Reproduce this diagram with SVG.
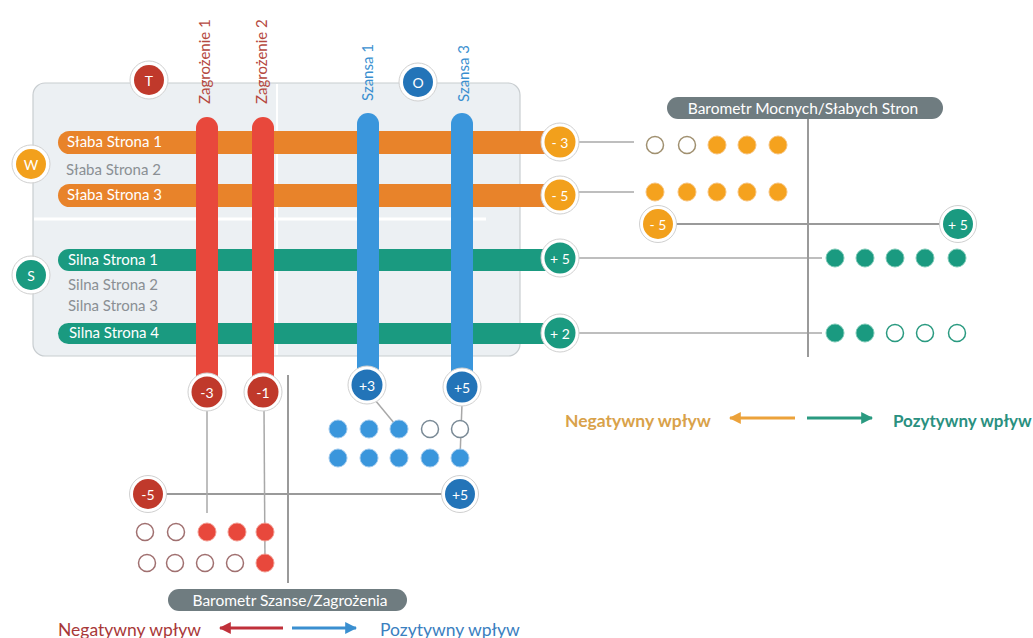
<svg xmlns="http://www.w3.org/2000/svg" width="1033" height="638" viewBox="0 0 1033 638">
<defs>
<style>
text{font-family:Lato,"Open Sans","Liberation Sans",sans-serif}
.bar-t{fill:#fff;font-size:15px}
.grey-t{fill:#8a8f94;font-size:15px}
.ln{stroke:#a8a8a8;stroke-width:1.5;fill:none}
.ax{stroke:#9a9a9a;stroke-width:2;fill:none}
.ring{fill:#fff;stroke:#d0d0d0;stroke-width:1}
.bt{fill:#fff;font-size:14px;text-anchor:middle;dominant-baseline:central}
.or{fill:#f2a01c}
.gr{fill:#1a9a80}
.rd{fill:#c0392b}
.bl{fill:#2374b8}
.dot-o{fill:#f5a21e;stroke:#f7c27a;stroke-width:1}
.dot-g{fill:#1a9a80;stroke:#7cc9b6;stroke-width:1}
.dot-r{fill:#e8483c;stroke:#f29a90;stroke-width:1}
.dot-b{fill:#3a96dc;stroke:#9cc8ee;stroke-width:1}
.open-o{fill:#fff;stroke:#a09070;stroke-width:1.5}
.open-g{fill:#fff;stroke:#2a9a80;stroke-width:1.5}
.open-r{fill:#fff;stroke:#a07070;stroke-width:1.5}
.open-b{fill:#fff;stroke:#7a8a96;stroke-width:1.5}
.pill{fill:#6f7c80}
.pill-t{fill:#fff;font-size:15.5px;text-anchor:middle;dominant-baseline:central}
.vl{font-size:15px}
</style>
<marker id="arrOr" viewBox="0 0 10 10" refX="9" refY="5" markerWidth="4" markerHeight="4" orient="auto-start-reverse"><path d="M0,0 L10,5 L0,10 z" fill="#eca23a"/></marker>
<marker id="arrGr" viewBox="0 0 10 10" refX="9" refY="5" markerWidth="4" markerHeight="4" orient="auto-start-reverse"><path d="M0,0 L10,5 L0,10 z" fill="#2a9a80"/></marker>
<marker id="arrRd" viewBox="0 0 10 10" refX="9" refY="5" markerWidth="4" markerHeight="4" orient="auto-start-reverse"><path d="M0,0 L10,5 L0,10 z" fill="#c0303a"/></marker>
<marker id="arrBl" viewBox="0 0 10 10" refX="9" refY="5" markerWidth="4" markerHeight="4" orient="auto-start-reverse"><path d="M0,0 L10,5 L0,10 z" fill="#3a8fd0"/></marker>
</defs>
<rect width="1033" height="638" fill="#fff"/>

<g id="panel">
<rect x="33" y="83" width="487" height="273" rx="12" fill="#ecf0f3" stroke="#c8cdd0" stroke-width="1.2"/>
<line x1="34" y1="219" x2="486" y2="219" stroke="#fff" stroke-width="3"/>
<line x1="277" y1="84" x2="277" y2="355" stroke="#fff" stroke-width="2"/>
</g>

<g id="connectors">
<line class="ln" x1="578" y1="142" x2="634" y2="142"/>
<line class="ln" x1="578" y1="192" x2="634" y2="192"/>
<line class="ln" x1="578" y1="258" x2="822" y2="258"/>
<line class="ln" x1="578" y1="333" x2="822" y2="333"/>
<line class="ax" x1="808" y1="119" x2="808" y2="357"/>
<line class="ax" x1="675" y1="224" x2="941" y2="224"/>
<line class="ax" x1="288" y1="375" x2="288" y2="583"/>
<line class="ax" x1="165" y1="494" x2="443" y2="494"/>
<line class="ln" x1="207" y1="409" x2="207" y2="513"/>
<line class="ln" x1="264" y1="409" x2="265" y2="563"/>
<line class="ln" x1="375" y1="400" x2="399" y2="429"/>
<line class="ln" x1="462" y1="404" x2="460" y2="458"/>
</g>

<g id="weaknesses">
<rect x="58" y="131" width="505" height="23" rx="11.5" fill="#e8832a"/>
<text class="bar-t" x="67" y="147">Słaba Strona 1</text>
<text class="grey-t" x="66" y="175">Słaba Strona 2</text>
<rect x="58" y="184" width="505" height="23" rx="11.5" fill="#e8832a"/>
<text class="bar-t" x="67" y="200">Słaba Strona 3</text>
</g>

<g id="strengths">
<rect x="58" y="249" width="505" height="22" rx="11" fill="#1a9a80"/>
<text class="bar-t" x="68" y="265">Silna Strona 1</text>
<text class="grey-t" x="68" y="290">Silna Strona 2</text>
<text class="grey-t" x="68" y="311">Silna Strona 3</text>
<rect x="58" y="323" width="505" height="21" rx="10.5" fill="#1a9a80"/>
<text class="bar-t" x="69" y="338">Silna Strona 4</text>
</g>

<g id="threat1">
<rect x="196" y="117" width="22" height="275" rx="11" fill="#e8483c"/>
<text class="vl" x="210" y="104" transform="rotate(-90 210 104)" fill="#b5483e">Zagrożenie 1</text>
</g>
<g id="threat2">
<rect x="252" y="117" width="22" height="275" rx="11" fill="#e8483c"/>
<text class="vl" x="267" y="104" transform="rotate(-90 267 104)" fill="#b5483e">Zagrożenie 2</text>
</g>
<g id="opportunity1">
<rect x="357" y="113" width="22" height="272" rx="11" fill="#3a96dc"/>
<text class="vl" x="373" y="101" transform="rotate(-90 373 101)" fill="#3a8fd0">Szansa 1</text>
</g>
<g id="opportunity3">
<rect x="451" y="113" width="22" height="274" rx="11" fill="#3a96dc"/>
<text class="vl" x="469" y="102" transform="rotate(-90 469 102)" fill="#3a8fd0">Szansa 3</text>
</g>

<g id="circle-T"><circle class="ring" cx="149" cy="80" r="19"/><circle class="rd" cx="149" cy="80" r="15"/><text class="bt" x="149" y="80">T</text></g>
<g id="circle-O"><circle class="ring" cx="418" cy="82" r="19"/><circle class="bl" cx="418" cy="82" r="15"/><text class="bt" x="418" y="82">O</text></g>
<g id="circle-W"><circle class="ring" cx="31" cy="164" r="19"/><circle class="or" cx="31" cy="164" r="15"/><text class="bt" x="31" y="164">W</text></g>
<g id="circle-S"><circle class="ring" cx="31" cy="275" r="19"/><circle class="gr" cx="31" cy="275" r="15"/><text class="bt" x="31" y="275">S</text></g>

<g id="badge-w1"><circle class="ring" cx="560" cy="142" r="19"/><circle class="or" cx="560" cy="142" r="15.5"/><text class="bt" x="560" y="142">- 3</text></g>
<g id="badge-w3"><circle class="ring" cx="560" cy="195" r="19"/><circle class="or" cx="560" cy="195" r="15.5"/><text class="bt" x="560" y="195">- 5</text></g>
<g id="badge-s1"><circle class="ring" cx="560" cy="258" r="19"/><circle class="gr" cx="560" cy="258" r="15.5"/><text class="bt" x="560" y="258">+ 5</text></g>
<g id="badge-s4"><circle class="ring" cx="560" cy="333" r="19"/><circle class="gr" cx="560" cy="333" r="15.5"/><text class="bt" x="560" y="333">+ 2</text></g>
<g id="badge-t1"><circle class="ring" cx="207" cy="392" r="19"/><circle class="rd" cx="207" cy="392" r="15.5"/><text class="bt" x="207" y="392">-3</text></g>
<g id="badge-t2"><circle class="ring" cx="263" cy="392" r="19"/><circle class="rd" cx="263" cy="392" r="15.5"/><text class="bt" x="263" y="392">-1</text></g>
<g id="badge-o1"><circle class="ring" cx="367" cy="385" r="19"/><circle class="bl" cx="367" cy="385" r="15.5"/><text class="bt" x="367" y="385">+3</text></g>
<g id="badge-o3"><circle class="ring" cx="462" cy="387" r="19"/><circle class="bl" cx="462" cy="387" r="15.5"/><text class="bt" x="462" y="387">+5</text></g>

<g id="barometer-sw">
<rect class="pill" x="667" y="97" width="276" height="22" rx="11"/>
<text class="pill-t" x="803" y="108">Barometr  Mocnych/Słabych Stron</text>
<g id="sw-min"><circle class="ring" cx="658" cy="224" r="18.5"/><circle class="or" cx="658" cy="224" r="15"/><text class="bt" x="658" y="224">- 5</text></g>
<g id="sw-max"><circle class="ring" cx="958" cy="224" r="18.5"/><circle class="gr" cx="958" cy="224" r="15"/><text class="bt" x="958" y="224">+ 5</text></g>
<circle class="open-o" cx="655" cy="145" r="8.5"/><circle class="open-o" cx="687" cy="145" r="8.5"/><circle class="dot-o" cx="717" cy="145" r="9"/><circle class="dot-o" cx="747" cy="145" r="9"/><circle class="dot-o" cx="778" cy="145" r="9"/>
<circle class="dot-o" cx="655" cy="192" r="9"/><circle class="dot-o" cx="687" cy="192" r="9"/><circle class="dot-o" cx="717" cy="192" r="9"/><circle class="dot-o" cx="747" cy="192" r="9"/><circle class="dot-o" cx="778" cy="192" r="9"/>
<circle class="dot-g" cx="835" cy="258" r="9"/><circle class="dot-g" cx="865" cy="258" r="9"/><circle class="dot-g" cx="895" cy="258" r="9"/><circle class="dot-g" cx="925" cy="258" r="9"/><circle class="dot-g" cx="957" cy="258" r="9"/>
<circle class="dot-g" cx="835" cy="333" r="9"/><circle class="dot-g" cx="865" cy="333" r="9"/><circle class="open-g" cx="895" cy="333" r="8.5"/><circle class="open-g" cx="925" cy="333" r="8.5"/><circle class="open-g" cx="957" cy="333" r="8.5"/>
</g>

<g id="barometer-ot">
<rect class="pill" x="168" y="589" width="239" height="22" rx="11"/>
<text class="pill-t" x="290" y="600">Barometr Szanse/Zagrożenia</text>
<g id="ot-min"><circle class="ring" cx="148" cy="494" r="18.5"/><circle class="rd" cx="148" cy="494" r="15"/><text class="bt" x="148" y="494">-5</text></g>
<g id="ot-max"><circle class="ring" cx="460" cy="494" r="18.5"/><circle class="bl" cx="460" cy="494" r="15"/><text class="bt" x="460" y="494">+5</text></g>
<circle class="dot-b" cx="338" cy="429" r="9"/><circle class="dot-b" cx="369" cy="429" r="9"/><circle class="dot-b" cx="399" cy="429" r="9"/><circle class="open-b" cx="430" cy="429" r="8.5"/><circle class="open-b" cx="460" cy="429" r="8.5"/>
<circle class="dot-b" cx="338" cy="458" r="9"/><circle class="dot-b" cx="369" cy="458" r="9"/><circle class="dot-b" cx="399" cy="458" r="9"/><circle class="dot-b" cx="430" cy="458" r="9"/><circle class="dot-b" cx="460" cy="458" r="9"/>
<circle class="open-r" cx="145" cy="532" r="8.5"/><circle class="open-r" cx="176" cy="532" r="8.5"/><circle class="dot-r" cx="207" cy="532" r="9"/><circle class="dot-r" cx="237" cy="532" r="9"/><circle class="dot-r" cx="265" cy="532" r="9"/>
<circle class="open-r" cx="147" cy="563" r="8.5"/><circle class="open-r" cx="175" cy="563" r="8.5"/><circle class="open-r" cx="205" cy="563" r="8.5"/><circle class="open-r" cx="235" cy="563" r="8.5"/><circle class="dot-r" cx="265" cy="563" r="9"/>
</g>

<g id="legend-sw">
<text x="565" y="427" font-size="17.5" font-weight="bold" fill="#d9a24a">Negatywny wpływ</text>
<line x1="795" y1="418" x2="730" y2="418" stroke="#eca23a" stroke-width="3" marker-end="url(#arrOr)"/>
<line x1="807" y1="418" x2="872" y2="418" stroke="#2a9a80" stroke-width="3" marker-end="url(#arrGr)"/>
<text x="893" y="427" font-size="17" font-weight="bold" fill="#2a9080">Pozytywny wpływ</text>
</g>

<g id="legend-ot">
<text x="58" y="636" font-size="17.5" fill="#a83838">Negatywny wpływ</text>
<line x1="283" y1="628" x2="220" y2="628" stroke="#c0303a" stroke-width="3" marker-end="url(#arrRd)"/>
<line x1="292" y1="628" x2="356" y2="628" stroke="#3a8fd0" stroke-width="3" marker-end="url(#arrBl)"/>
<text x="380" y="636" font-size="17.5" fill="#3a80c0">Pozytywny wpływ</text>
</g>
</svg>
